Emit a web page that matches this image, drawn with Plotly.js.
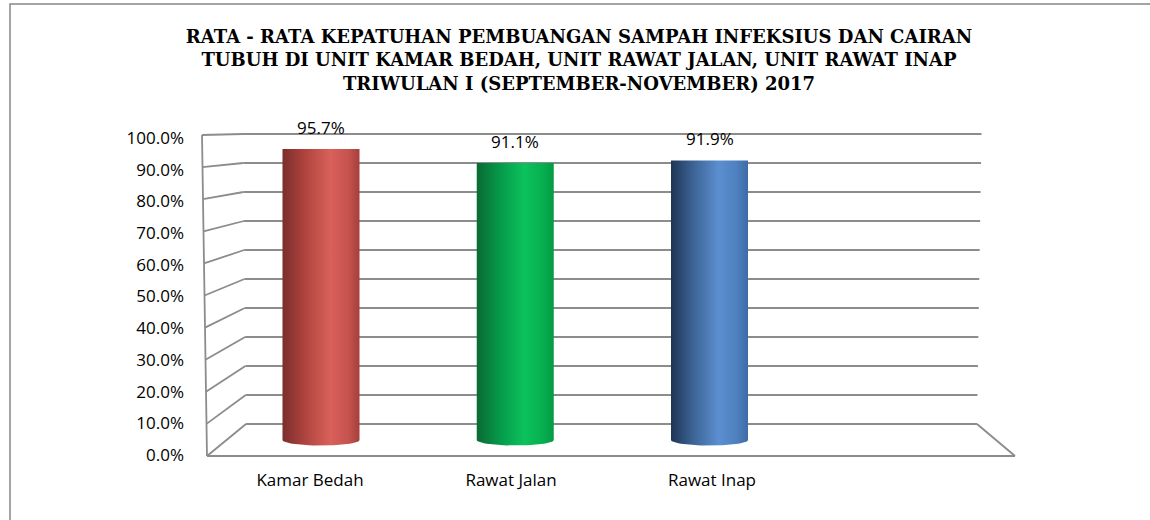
<!DOCTYPE html>
<html>
<head>
<meta charset="utf-8">
<script src="https://cdn.plot.ly/plotly-3.0.1.min.js"></script>
<style>html,body{margin:0;padding:0;background:#fff;}#chart{width:1150px;height:520px;}</style>
</head>
<body>
<div id="chart"></div>
<script>
// ---------- data ----------
const categories = ['Kamar Bedah', 'Rawat Jalan', 'Rawat Inap'];
const values = [95.7, 91.1, 91.9];
const tickVals = [0, 10, 20, 30, 40, 50, 60, 70, 80, 90, 100];
const tickText = tickVals.map(v => v.toFixed(1) + '%');
const titleLines = [
  'RATA - RATA KEPATUHAN PEMBUANGAN SAMPAH INFEKSIUS DAN CAIRAN',
  'TUBUH DI UNIT KAMAR BEDAH, UNIT RAWAT JALAN, UNIT RAWAT INAP',
  'TRIWULAN I (SEPTEMBER-NOVEMBER) 2017'
];
const cylinderScales = [
  [[0, '#7a2e2c'], [0.3, '#b1443f'], [0.62, '#d9605b'], [0.85, '#c6534e'], [1, '#a63f3b']],
  [[0, '#0a6a33'], [0.3, '#059a4a'], [0.62, '#0cc25c'], [0.85, '#06b050'], [1, '#049a44']],
  [[0, '#1e3556'], [0.3, '#3e6598'], [0.62, '#5b8fd0'], [0.85, '#4f80bf'], [1, '#3d6ba5']]
];

// ---------- layout geometry (pixels) ----------
const FW = 1150, FH = 520;
const M = {l: 195, r: 125, t: 130, b: 60};
const W = FW - M.l - M.r, H = FH - M.t - M.b, BOT = FH - M.b;
// mid-depth plane (cylinders)
const midCat0 = 321, midStep = 194.25, midZero = 440, midPer = 3.04;
const XR = [-(midCat0 - M.l) / midStep, -(midCat0 - M.l) / midStep + W / midStep];
const YR = [(midZero - BOT) / midPer, (midZero - BOT) / midPer + H / midPer];
// front plane (labels)
const frCat0 = 310, frStep = 201, frZero = 455, frPer = 3.17;
const XR2 = [-(frCat0 - M.l) / frStep, -(frCat0 - M.l) / frStep + W / frStep];
const YR2 = [(frZero - BOT) / frPer, (frZero - BOT) / frPer + H / frPer];

const px2x = px => XR[0] + (px - M.l) / W * (XR[1] - XR[0]);
const py2y = py => YR[0] + (BOT - py) / H * (YR[1] - YR[0]);
// wall perspective
const yBack = v => py2y(424 - 2.9 * v);
const yFront = v => py2y(456 - 3.21 * v);
const xBackL = v => px2x(246 - 0.03 * v);
const xBackR = v => px2x(977 + 0.045 * v);
const xFrontL = v => px2x(207 - 0.05 * v);
const xFrontR = px2x(1015);

const gridLine = {color: '#8c8c8c', width: 1.8};
const shapes = [];
tickVals.forEach(v => {
  shapes.push({type: 'line', xref: 'x', yref: 'y', x0: xBackL(v), y0: yBack(v), x1: xBackR(v), y1: yBack(v), line: gridLine, layer: 'below'});
  shapes.push({type: 'line', xref: 'x', yref: 'y', x0: xFrontL(v), y0: yFront(v), x1: xBackL(v), y1: yBack(v), line: gridLine, layer: 'below'});
});
const vMax = tickVals[tickVals.length - 1];
shapes.push({type: 'line', xref: 'x', yref: 'y', x0: xFrontL(0), y0: yFront(0), x1: xFrontL(vMax), y1: yFront(vMax), line: gridLine, layer: 'below'});
shapes.push({type: 'line', xref: 'x', yref: 'y', x0: xFrontL(0), y0: yFront(0), x1: xFrontR, y1: yFront(0), line: gridLine, layer: 'below'});
shapes.push({type: 'line', xref: 'x', yref: 'y', x0: xBackR(0), y0: yBack(0), x1: xFrontR, y1: yFront(0), line: gridLine, layer: 'below'});
// outer chart border (left & top visible)
shapes.push({type: 'rect', xref: 'paper', yref: 'paper',
  x0: (10 - M.l) / W, x1: (FW + 20 - M.l) / W, y0: (BOT - FH - 20) / H, y1: (BOT - 4) / H,
  line: {color: '#878787', width: 1.5}, fillcolor: 'rgba(0,0,0,0)'});

// ---------- cylinders ----------
const hw = 38.5 / midStep;   // half width in category units
const eh = 5.5 / midPer;     // bottom ellipse half-height in value units
const traces = categories.map((c, i) => {
  const v = values[i];
  const xs = [i - hw, i + hw], ys = [v, v];
  const N = 30;
  for (let k = 0; k <= N; k++) {
    const th = Math.PI * k / N;
    xs.push(i + hw * Math.cos(th));
    ys.push(-eh * Math.sin(th));
  }
  xs.push(i - hw); ys.push(v);
  return {
    type: 'scatter', mode: 'lines', x: xs, y: ys, fill: 'toself',
    line: {width: 0, color: 'rgba(0,0,0,0)'},
    fillgradient: {type: 'horizontal', colorscale: cylinderScales[i]},
    hoverinfo: 'skip', showlegend: false, xaxis: 'x', yaxis: 'y'
  };
});
// invisible trace binding front-plane label axes
traces.push({type: 'scatter', mode: 'markers', x: [0], y: [0], xaxis: 'x2', yaxis: 'y2',
  marker: {opacity: 0}, hoverinfo: 'skip', showlegend: false});

const labelFont = {family: 'Open Sans', size: 17, color: '#000'};
const annotations = values.map((v, i) => ({
  x: i, y: v, xref: 'x', yref: 'y', text: v.toFixed(1) + '%', showarrow: false,
  yshift: 22, yanchor: 'middle', font: labelFont
}));

const layout = {
  width: FW, height: FH, margin: M,
  paper_bgcolor: '#fff', plot_bgcolor: 'rgba(0,0,0,0)',
  showlegend: false,
  title: {
    text: titleLines.join('<br>'),
    font: {family: 'DejaVu Serif', size: 18, color: '#000', weight: 'bold'},
    x: 579 / FW, xanchor: 'center', xref: 'container',
    y: 1 - 43 / FH, yanchor: 'top', yref: 'container'
  },
  xaxis: {range: XR, visible: false, fixedrange: true},
  yaxis: {range: YR, visible: false, fixedrange: true},
  xaxis2: {range: XR2, overlaying: 'x', anchor: 'y2', side: 'bottom', showgrid: false, zeroline: false,
    showline: false, tickmode: 'array', tickvals: categories.map((c, i) => i), ticktext: categories,
    ticks: '', ticklabelstandoff: 8, tickfont: labelFont, fixedrange: true},
  yaxis2: {range: YR2, overlaying: 'y', anchor: 'x2', side: 'left', showgrid: false, zeroline: false,
    showline: false, tickmode: 'array', tickvals: tickVals, ticktext: tickText,
    ticks: '', ticklabelstandoff: 10, tickfont: labelFont, fixedrange: true},
  shapes: shapes,
  annotations: annotations
};

Plotly.newPlot('chart', traces, layout, {displayModeBar: false, staticPlot: true});
</script>
</body>
</html>
